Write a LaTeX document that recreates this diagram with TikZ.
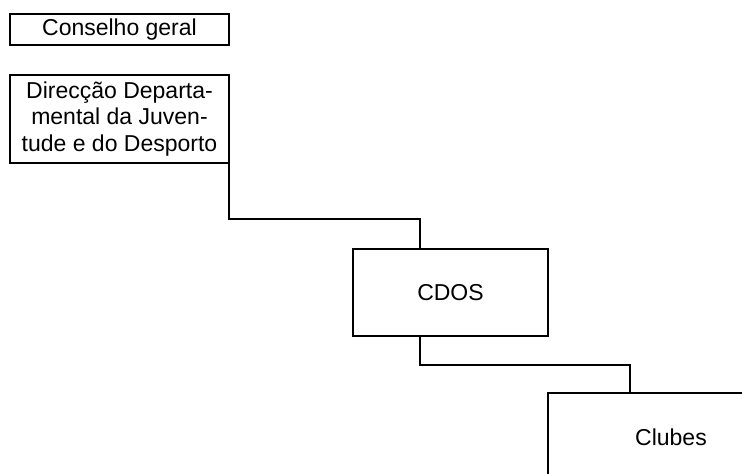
\documentclass[tikz,border=0pt]{standalone}
\usepackage{fontspec}
\setmainfont{Liberation Sans}
\usetikzlibrary{positioning,calc}

\begin{document}
\begin{tikzpicture}[
			x=1pt, y=-1pt,
			box/.style={draw, line width=2.6pt, inner sep=0pt, outer sep=0pt, align=center, font=\fontsize{23}{26.7}\selectfont},
			link/.style={draw, line width=2pt}
			]
			\useasboundingbox (0,0) rectangle (742,474);
			\clip (0,0) rectangle (742,474);
			\node[box, minimum width=219pt, minimum height=31pt] (cons) at (119.5,29.5) {Conselho geral};
			\node[box, minimum width=219pt, minimum height=88pt] (dir) at (119.5,119) {Direcção Departa-\\mental da Juven-\\tude e do Desporto};
			\node[box, minimum width=195pt, minimum height=87pt] (cdos) at (450.5,292.5) {CDOS};
			\node[box, minimum width=246pt, minimum height=88pt] (clubes) at (671,437) {Clubes};
			
			\coordinate (cdosin) at ($(cdos.north west)+(67,0)$);
			\coordinate (cdosout) at ($(cdos.south west)+(67,0)$);
			\coordinate (clubesin) at ($(clubes.north west)+(82,0)$);
			
			\draw[link] (dir.south east) -- ++(0,56) -| (cdosin);
			\draw[link] (cdosout) -- ++(0,29) -| (clubesin);
		\end{tikzpicture}
\end{document}
